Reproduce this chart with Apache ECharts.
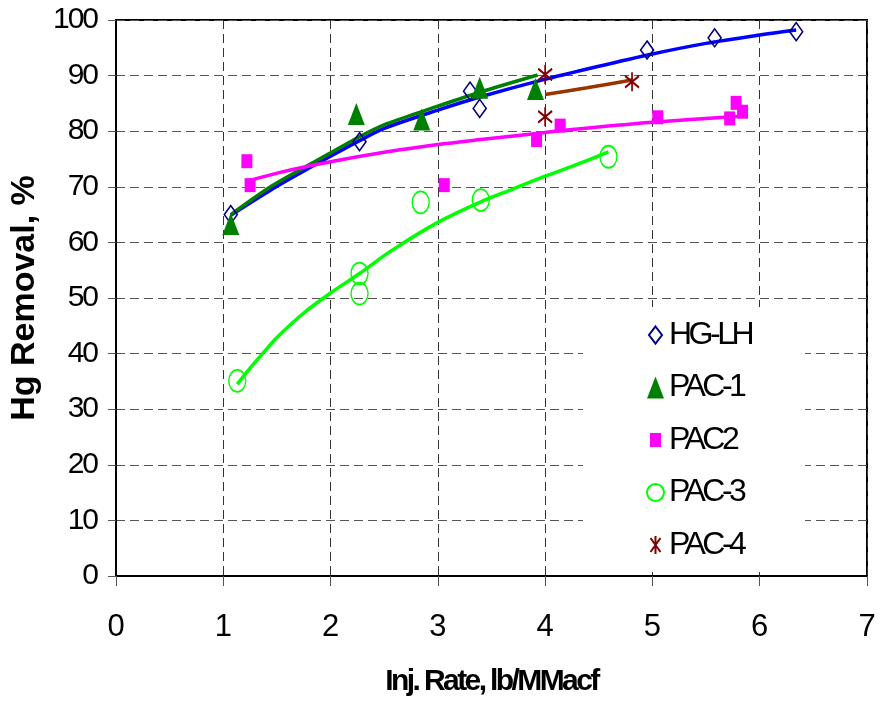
<!DOCTYPE html>
<html>
<head>
<meta charset="utf-8">
<script src="https://cdn.jsdelivr.net/npm/echarts@6/dist/echarts.min.js"></script>
<style>
html,body{margin:0;padding:0;background:#fff;}
#chart{width:880px;height:705px;}
</style>
</head>
<body>
<div id="chart"></div>
<script>
// ---- data ----
var xTicks = [0, 1, 2, 3, 4, 5, 6, 7];
var yTicks = [0, 10, 20, 30, 40, 50, 60, 70, 80, 90, 100];

var hglhX = [1.07, 2.27, 3.30, 3.39, 4.95, 5.58, 6.34];
var hglhY = [65.0, 78.1, 87.2, 84.1, 94.6, 96.8, 97.9];

var pac1X = [1.07, 2.24, 2.85, 3.39, 3.91];
var pac1Y = [63.3, 83.1, 82.1, 87.8, 87.6];

var pac2X = [1.22, 1.25, 3.06, 3.92, 4.14, 5.05, 5.72, 5.78, 5.84];
var pac2Y = [74.6, 70.3, 70.3, 78.4, 81.0, 82.5, 82.3, 85.1, 83.5];

var pac3X = [1.13, 2.27, 2.27, 2.84, 3.40, 4.59];
var pac3Y = [35.1, 54.4, 50.8, 67.2, 67.6, 75.4];

var pac4X = [4.00, 4.00, 4.81];
var pac4Y = [90.2, 82.6, 88.9];

// trend lines
var hglhTrendX = [1.07, 1.44, 1.71, 2.0, 2.27, 2.5, 3.0, 3.4, 3.95, 4.48, 5.0, 5.5, 6.0, 6.34];
var hglhTrendY = [64.9, 69.4, 72.4, 75.5, 78.3, 80.5, 83.8, 86.2, 89.1, 91.6, 93.9, 95.8, 97.3, 98.2];

var pac1TrendX = [1.07, 1.44, 1.71, 2.0, 2.27, 2.52, 3.0, 3.39, 3.93];
var pac1TrendY = [65.0, 70.0, 73.0, 76.1, 79.0, 81.3, 84.5, 87.0, 90.1];

var pac2TrendX = [1.22, 1.53, 2.0, 2.5, 3.0, 3.4, 3.92, 4.2, 5.0, 5.82];
var pac2TrendY = [71.0, 72.6, 74.5, 76.2, 77.6, 78.5, 79.6, 80.2, 81.6, 82.7];

var pac3TrendX = [1.13, 1.25, 1.38, 1.5, 1.75, 2.0, 2.27, 2.55, 3.0, 3.4, 3.7, 4.0, 4.32, 4.59];
var pac3TrendY = [34.5, 37.4, 40.3, 42.9, 47.3, 50.9, 54.4, 58.3, 63.6, 67.3, 69.6, 71.9, 74.2, 76.3];

var pac4TrendX = [4.0, 4.39, 4.81];
var pac4TrendY = [86.6, 87.8, 89.2];

var seriesNames = ['HG-LH', 'PAC-1', 'PAC2', 'PAC-3', 'PAC-4'];

// condensed text: family tag "TightNN" => letter spacing of -N.N px
(function () {
  var proto = window.CanvasRenderingContext2D && CanvasRenderingContext2D.prototype;
  if (!proto) return;
  var d = Object.getOwnPropertyDescriptor(proto, 'font');
  if (!d || !d.set || !('letterSpacing' in proto)) return;
  Object.defineProperty(proto, 'font', {
    configurable: true,
    get: function () { return d.get.call(this); },
    set: function (v) {
      d.set.call(this, v);
      var m = /Tight(\d+)/.exec(v);
      try { this.letterSpacing = m ? ('-' + (parseInt(m[1], 10) / 10) + 'px') : '0px'; } catch (e) {}
    }
  });
})();

function fam(tag) { return (tag ? '"' + tag + '", ' : '') + '"Liberation Sans", Arial, sans-serif'; }

function pairs(xs, ys) {
  return xs.map(function (x, i) { return [x, ys[i]]; });
}

var asterisk = 'path://M5,0L5,20M0,4L10,16M10,4L0,16';

function trend(name, xs, ys, color) {
  return {
    name: name, type: 'line', data: pairs(xs, ys), showSymbol: false, symbol: 'none',
    smooth: 0.3, lineStyle: { color: color, width: 3.5 }, silent: true, z: 2
  };
}

var chart = echarts.init(document.getElementById('chart'), null, { renderer: 'canvas' });
chart.setOption({
  animation: false,
  backgroundColor: '#fff',
  grid: { left: 116, right: 13, top: 20, bottom: 129, show: true, borderColor: '#000', borderWidth: 2, backgroundColor: 'transparent' },
  xAxis: {
    type: 'value', min: xTicks[0], max: xTicks[xTicks.length - 1], interval: 1,
    name: 'Inj. Rate, lb/MMacf', nameLocation: 'middle', nameGap: 92,
    nameTextStyle: { fontFamily: fam('Tight26'), fontWeight: 'bold', fontSize: 30, color: '#000' },
    axisLine: { show: true, onZero: false, lineStyle: { color: '#000', width: 2 } },
    axisTick: { show: true, inside: false, length: 10, lineStyle: { color: '#555', width: 1 } },
    axisLabel: { fontFamily: fam(''), fontSize: 31, color: '#000', margin: 36 },
    splitLine: { show: true, lineStyle: { color: '#333', type: [9, 5], width: 1 } }
  },
  yAxis: {
    type: 'value', min: yTicks[0], max: yTicks[yTicks.length - 1], interval: 10,
    name: 'Hg Removal, %', nameLocation: 'middle', nameGap: 67, nameRotate: 90,
    nameTextStyle: { fontFamily: fam(''), fontWeight: 'bold', fontSize: 34, color: '#000' },
    axisLine: { show: true, lineStyle: { color: '#000', width: 2 } },
    axisTick: { show: true, inside: false, length: 8, lineStyle: { color: '#555', width: 1 } },
    axisLabel: { fontFamily: fam('Tight20'), fontSize: 30, color: '#000', margin: 19 },
    splitLine: { show: true, lineStyle: { color: '#555', type: [9, 5], width: 1 } }
  },
  legend: {
    orient: 'vertical', left: 583, top: 307,
    padding: [12, 36, 11, 63],
    backgroundColor: '#fff',
    itemWidth: 17, itemHeight: 24, itemGap: 20.5, itemTextGap: 6,
    symbolKeepAspect: false,
    data: [
      { name: seriesNames[0], icon: 'path://M0,0L0,0M8.5,3.5L15,12L8.5,20.5L2,12Z M17,24L17,24' },
      { name: seriesNames[1], icon: 'path://M0,0L0,0M8.5,1L17,23L0,23Z M17,24L17,24' },
      { name: seriesNames[2], icon: 'path://M0,0L0,0M3,5L14,5L14,19L3,19Z M17,24L17,24' },
      { name: seriesNames[3], icon: 'circle' },
      { name: seriesNames[4], icon: 'path://M0,0L0,0M8.5,3L8.5,21M3.5,5L13.5,19M13.5,5L3.5,19M17,24L17,24' }
    ],
    textStyle: { fontFamily: fam('Tight35'), fontSize: 32, color: '#000', lineHeight: 32, width: 100 },
    selectedMode: false
  },
  series: [
    trend('t-hglh', hglhTrendX, hglhTrendY, '#0000ff'),
    trend('t-pac1', pac1TrendX, pac1TrendY, '#008000'),
    trend('t-pac2', pac2TrendX, pac2TrendY, '#ff00ff'),
    trend('t-pac3', pac3TrendX, pac3TrendY, '#00ff00'),
    trend('t-pac4', pac4TrendX, pac4TrendY, '#993300'),
    {
      name: 'HG-LH', type: 'scatter', data: pairs(hglhX, hglhY), symbol: 'diamond', symbolSize: [13, 18],
      itemStyle: { color: 'rgba(255,255,255,0)', borderColor: '#000080', borderWidth: 1.6, opacity: 1 }, z: 3
    },
    {
      name: 'PAC-1', type: 'scatter', data: pairs(pac1X, pac1Y), symbol: 'triangle', symbolSize: [17, 22],
      itemStyle: { color: '#008000', opacity: 1 }, z: 4
    },
    {
      name: 'PAC2', type: 'scatter', data: pairs(pac2X, pac2Y), symbol: 'rect', symbolSize: [11, 14],
      itemStyle: { color: '#ff00ff', opacity: 1 }, z: 4
    },
    {
      name: 'PAC-3', type: 'scatter', data: pairs(pac3X, pac3Y), symbol: 'circle', symbolSize: [17, 22],
      itemStyle: { color: 'rgba(255,255,255,0)', borderColor: '#00ff00', borderWidth: 1.6, opacity: 1 }, z: 4
    },
    {
      name: 'PAC-4', type: 'scatter', data: pairs(pac4X, pac4Y), symbol: asterisk, symbolSize: [14, 19],
      itemStyle: { color: '#800000', borderColor: '#800000', borderWidth: 2, opacity: 1 }, z: 4
    }
  ]
});
</script>
</body>
</html>
